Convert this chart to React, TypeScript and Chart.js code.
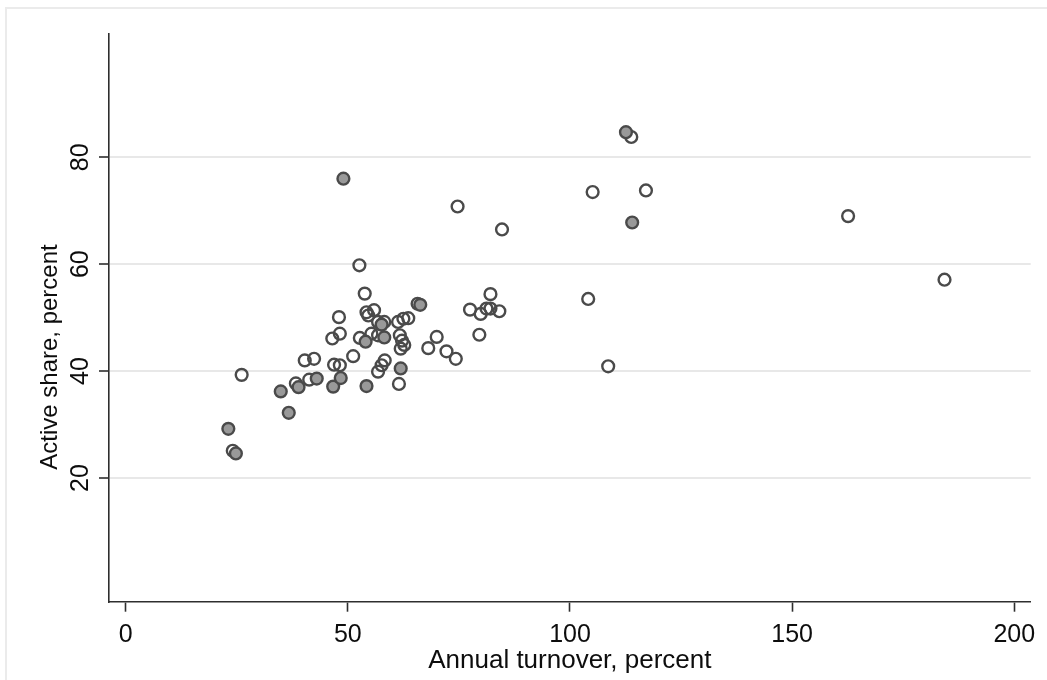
import React, { useEffect, useRef } from "react";
import { Chart, registerables } from "chart.js";

Chart.register(...registerables);

// Filled markers (one group)
const filledTurnover = [23.1, 24.8, 34.9, 36.7, 38.9, 43.0, 46.7, 48.4, 49.0, 54.0, 54.2, 57.6, 58.2, 61.9, 66.3, 112.6, 114.0];
const filledActive = [29.2, 24.6, 36.2, 32.2, 37.0, 38.6, 37.1, 38.7, 76.0, 45.5, 37.2, 48.7, 46.3, 40.5, 52.4, 84.7, 67.8];

// Hollow markers (other group)
const hollowTurnover = [
  24.1, 26.1, 38.3, 41.3, 40.3, 42.4, 46.5, 48.2, 48.0, 46.9, 48.2, 51.2, 52.6, 52.7,
  53.8, 54.2, 55.9, 54.6, 55.3, 56.8, 58.2, 56.8, 61.3, 62.5, 63.6, 61.7, 62.2, 62.7,
  61.9, 58.3, 57.6, 56.8, 61.5, 65.7, 68.1, 70.0, 72.2, 74.3, 74.7, 77.5, 79.9, 82.1,
  81.2, 82.1, 84.1, 79.6, 84.7, 104.1, 105.1, 108.6, 113.8, 117.1, 162.6, 184.3,
];
const hollowActive = [
  25.1, 39.3, 37.7, 38.4, 42.0, 42.3, 46.1, 47.0, 50.1, 41.2, 41.1, 42.8, 59.8, 46.2,
  54.5, 51.0, 51.4, 50.4, 47.0, 49.2, 49.2, 46.7, 49.2, 49.8, 49.9, 46.7, 45.7, 44.9,
  44.2, 42.0, 41.1, 39.9, 37.6, 52.6, 44.3, 46.4, 43.7, 42.3, 70.8, 51.5, 50.7, 54.4,
  51.7, 51.7, 51.2, 46.8, 66.5, 53.5, 73.5, 40.9, 83.8, 73.8, 69.0, 57.1,
];

const xTickValues = [0, 50, 100, 150, 200];
const xTickLabels = ["0", "50", "100", "150", "200"];
const yTickValues = [20, 40, 60, 80];
const yTickLabels = ["20", "40", "60", "80"];

const xTitle = "Annual turnover, percent";
const yTitle = "Active share, percent";

const FONT = '"Liberation Sans", Arial, sans-serif';

const textPlugin = {
  id: "stataText",
  beforeDraw(chart: any) {
    const ctx = chart.ctx;
    ctx.save();
    ctx.strokeStyle = "#ebebeb";
    ctx.lineWidth = 2;
    ctx.beginPath();
    ctx.moveTo(6, 700);
    ctx.lineTo(6, 8);
    ctx.lineTo(1100, 8);
    ctx.stroke();
    ctx.restore();
  },
  afterDraw(chart: any) {
    const ctx = chart.ctx;
    const xs = chart.scales.x;
    const ys = chart.scales.y;
    ctx.save();
    ctx.fillStyle = "#0d0d0d";
    ctx.font = `25px ${FONT}`;
    ctx.textAlign = "center";
    ctx.textBaseline = "alphabetic";
    xTickValues.forEach((v, i) => {
      ctx.fillText(xTickLabels[i], xs.getPixelForValue(v), 642);
    });
    ctx.font = `26px ${FONT}`;
    ctx.fillText(xTitle, (chart.chartArea.left + chart.chartArea.right) / 2, 668);
    ctx.font = `25px ${FONT}`;
    yTickValues.forEach((v, i) => {
      ctx.save();
      ctx.translate(88, ys.getPixelForValue(v));
      ctx.rotate(-Math.PI / 2);
      ctx.fillText(yTickLabels[i], 0, 0);
      ctx.restore();
    });
    ctx.save();
    ctx.font = `24px ${FONT}`;
    ctx.translate(57, 357);
    ctx.rotate(-Math.PI / 2);
    ctx.fillText(yTitle, 0, 0);
    ctx.restore();
    ctx.restore();
  },
};

export default function App() {
  const ref = useRef<HTMLCanvasElement | null>(null);
  useEffect(() => {
    if (!ref.current) return;
    const filled = filledTurnover.map((x, i) => ({ x, y: filledActive[i] }));
    const hollow = hollowTurnover.map((x, i) => ({ x, y: hollowActive[i] }));
    const chart = new Chart(ref.current, {
      type: "scatter",
      data: {
        datasets: [
          {
            label: "filled",
            data: filled,
            backgroundColor: "#999999",
            borderColor: "#4a4a4a",
            borderWidth: 2.4,
            pointRadius: 5.9,
            pointHoverRadius: 5.9,
          },
          {
            label: "hollow",
            data: hollow,
            backgroundColor: "rgba(255,255,255,0)",
            borderColor: "#4a4a4a",
            borderWidth: 2.4,
            pointRadius: 5.9,
            pointHoverRadius: 5.9,
          },
        ],
      },
      options: {
        responsive: false,
        animation: false,
        events: [],
        clip: false as any,
        layout: { padding: { left: 0, right: 16.3, top: 34, bottom: 0 } },
        plugins: { legend: { display: false }, tooltip: { enabled: false } },
        scales: {
          x: {
            type: "linear",
            min: -3.76,
            max: 203.7,
            afterBuildTicks: (s: any) => {
              s.ticks = xTickValues.map((v) => ({ value: v }));
            },
            afterFit: (s: any) => {
              s.height = 78.3;
            },
            ticks: { display: false },
            grid: {
              drawOnChartArea: false,
              drawTicks: true,
              tickLength: 10,
              tickColor: "#2e2e2e",
              tickWidth: 1.6,
            },
            border: { display: true, color: "#2e2e2e", width: 1.6 },
          },
          y: {
            type: "linear",
            min: -3.14,
            max: 103.07,
            afterBuildTicks: (s: any) => {
              s.ticks = yTickValues.map((v) => ({ value: v }));
            },
            afterFit: (s: any) => {
              s.width = 109;
            },
            ticks: { display: false },
            grid: {
              drawOnChartArea: true,
              color: "#e8e8e8",
              lineWidth: 2,
              drawTicks: true,
              tickLength: 10,
              tickColor: "#2e2e2e",
              tickWidth: 1.6,
            },
            border: { display: true, color: "#2e2e2e", width: 1.6 },
          },
        },
      },
      plugins: [textPlugin],
    });
    return () => chart.destroy();
  }, []);
  return (
    <div style={{ position: "absolute", left: 0, top: 0, width: 1047, height: 680, background: "#fff" }}>
      <canvas ref={ref} width={1047} height={680} style={{ display: "block" }} />
    </div>
  );
}
